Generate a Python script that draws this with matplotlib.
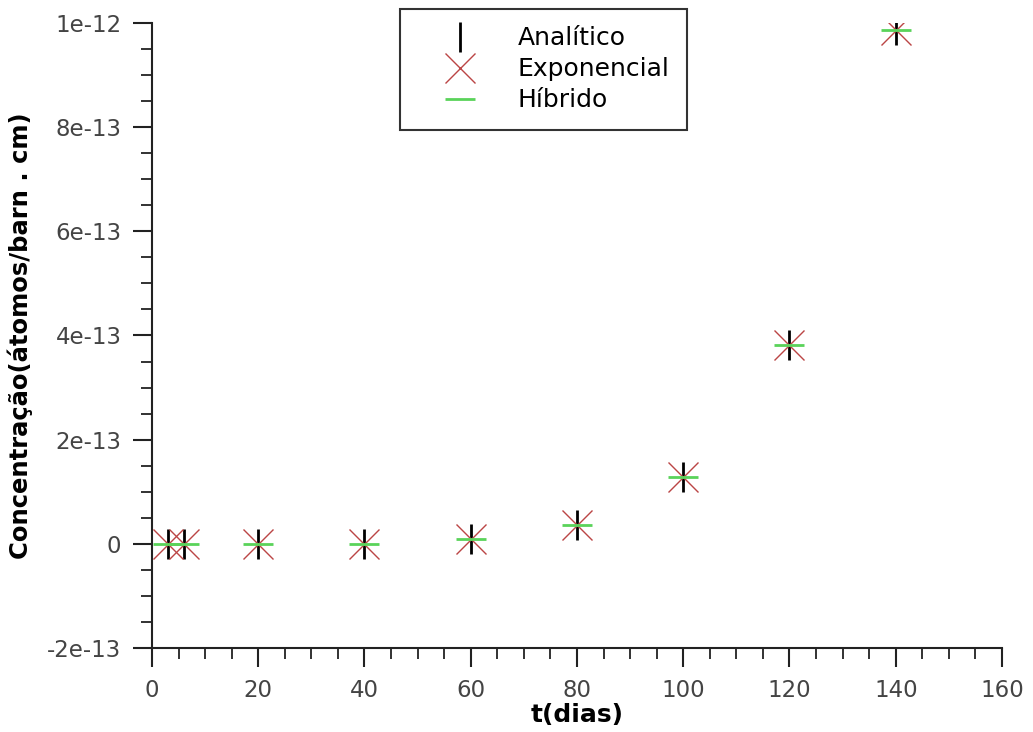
import numpy as np
import matplotlib
matplotlib.use("Agg")
import matplotlib.pyplot as plt
from matplotlib.ticker import MultipleLocator, FuncFormatter

# dados
t_dias = [3, 6, 20, 40, 60, 80, 100, 120, 140]
analitico = [0.0, 0.0, 0.0, 0.0, 9.0e-15, 3.7e-14, 1.29e-13, 3.82e-13, 9.87e-13]
exponencial = [0.0, 0.0, 0.0, 0.0, 9.0e-15, 3.7e-14, 1.29e-13, 3.82e-13, 9.87e-13]
hibrido = [0.0, 0.0, 0.0, 0.0, 9.0e-15, 3.7e-14, 1.29e-13, 3.82e-13, 9.87e-13]

fig = plt.figure(figsize=(10.33, 7.32), dpi=100)
ax = fig.add_axes([0.1471, 0.1148, 0.8229, 0.8538])

ms = 21.6
ax.plot(t_dias, analitico, ls="none", marker="|", ms=ms, mew=2.0,
        color="black", label="Analítico", zorder=3)
ax.plot(t_dias, exponencial, ls="none", marker="x", ms=ms, mew=1.0,
        color="#bb4545", label="Exponencial", zorder=4)
ax.plot(t_dias, hibrido, ls="none", marker="_", ms=ms, mew=2.0,
        color="#5ad35a", label="Híbrido", zorder=5)

ax.set_xlim(0, 160)
ax.set_ylim(-2e-13, 1e-12)
ax.xaxis.set_major_locator(MultipleLocator(20))
ax.xaxis.set_minor_locator(MultipleLocator(5))
ax.yaxis.set_major_locator(MultipleLocator(2e-13))
ax.yaxis.set_minor_locator(MultipleLocator(5e-14))


def fmt_y(v, pos):
    if abs(v) < 1e-20:
        return "0"
    return "%.0e" % v


ax.yaxis.set_major_formatter(FuncFormatter(fmt_y))
ax.yaxis.get_offset_text().set_visible(False)
ax.xaxis.get_offset_text().set_visible(False)

for s in ["top", "right"]:
    ax.spines[s].set_visible(False)
for s in ["left", "bottom"]:
    ax.spines[s].set_linewidth(1.5)
    ax.spines[s].set_color("#222222")

ax.tick_params(which="major", direction="out", length=14, width=1.5,
               colors="#222222", labelcolor="#444444", labelsize=16.5, pad=8)
ax.tick_params(which="minor", direction="out", length=8, width=1.3,
               colors="#222222")

ax.set_xlabel("t(dias)", fontsize=18, fontweight="bold", labelpad=1)
ax.set_ylabel("Concentração(átomos/barn . cm)", fontsize=17.5,
              fontweight="bold", labelpad=10)

leg = ax.legend(loc="upper left", bbox_to_anchor=(0.2918, 1.0224),
                borderaxespad=0, fancybox=False, fontsize=18,
                handlelength=3.4, handletextpad=0.6, labelspacing=0.28,
                borderpad=0.7, frameon=True)
leg.get_frame().set_edgecolor("black")
leg.get_frame().set_linewidth(1.5)
leg.set_zorder(10)

fig.savefig("out.png", dpi=100)
